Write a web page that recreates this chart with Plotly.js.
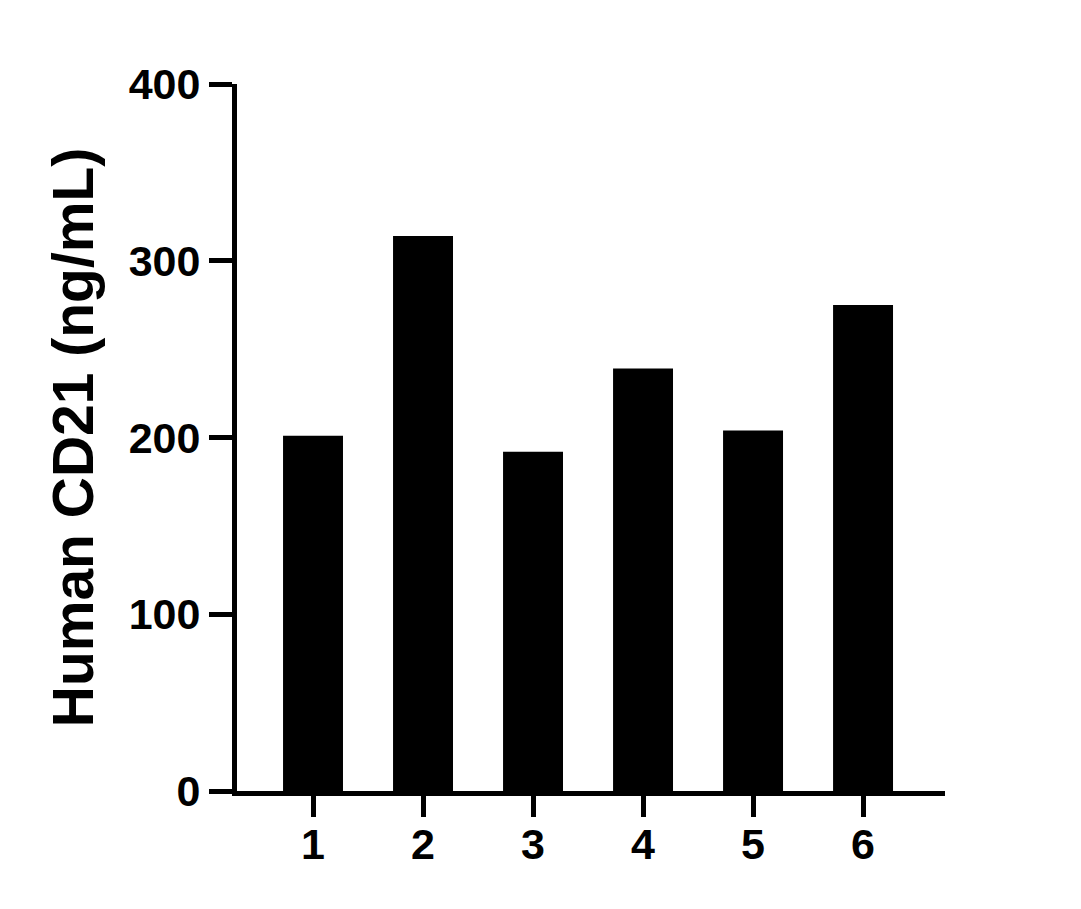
<!DOCTYPE html>
<html>
<head>
<meta charset="utf-8">
<script src="https://cdn.plot.ly/plotly-3.0.1.min.js"></script>
<style>html,body{margin:0;padding:0;background:#fff;}#chart{width:1081px;height:909px;}</style>
</head>
<body>
<div id="chart"></div>
<script>
const categories = [1, 2, 3, 4, 5, 6];
const tickLabels = ["1", "2", "3", "4", "5", "6"];
const values = [201, 314, 192, 239, 204, 275];
const yTicks = [0, 100, 200, 300, 400];

const font = {family: "Liberation Sans, Arial, sans-serif", color: "#000", weight: "bold"};

const trace = {
  type: "bar",
  x: categories,
  y: values,
  width: 0.545,
  marker: {color: "#000", line: {width: 0}},
  hoverinfo: "skip"
};

const layout = {
  width: 1081,
  height: 909,
  margin: {l: 237, r: 136, t: 84, b: 118},
  paper_bgcolor: "#fff",
  plot_bgcolor: "#fff",
  showlegend: false,
  xaxis: {
    range: [0.309, 6.745],
    tickmode: "array",
    tickvals: categories,
    ticktext: tickLabels,
    showline: true, linewidth: 5, linecolor: "#000",
    ticks: "outside", ticklen: 21, tickwidth: 5, tickcolor: "#000",
    ticklabelstandoff: -10,
    showgrid: false, zeroline: false,
    tickfont: Object.assign({size: 43}, font)
  },
  yaxis: {
    range: [0, 400],
    tickmode: "array",
    tickvals: yTicks,
    showline: true, linewidth: 5, linecolor: "#000",
    ticks: "outside", ticklen: 23, tickwidth: 5, tickcolor: "#000",
    showgrid: false, zeroline: false,
    tickfont: Object.assign({size: 43}, font),
    title: {text: "Human CD21 (ng/mL)", font: Object.assign({size: 57}, font), standoff: 18}
  }
};

Plotly.newPlot("chart", [trace], layout, {displayModeBar: false, staticPlot: true});
</script>
</body>
</html>
